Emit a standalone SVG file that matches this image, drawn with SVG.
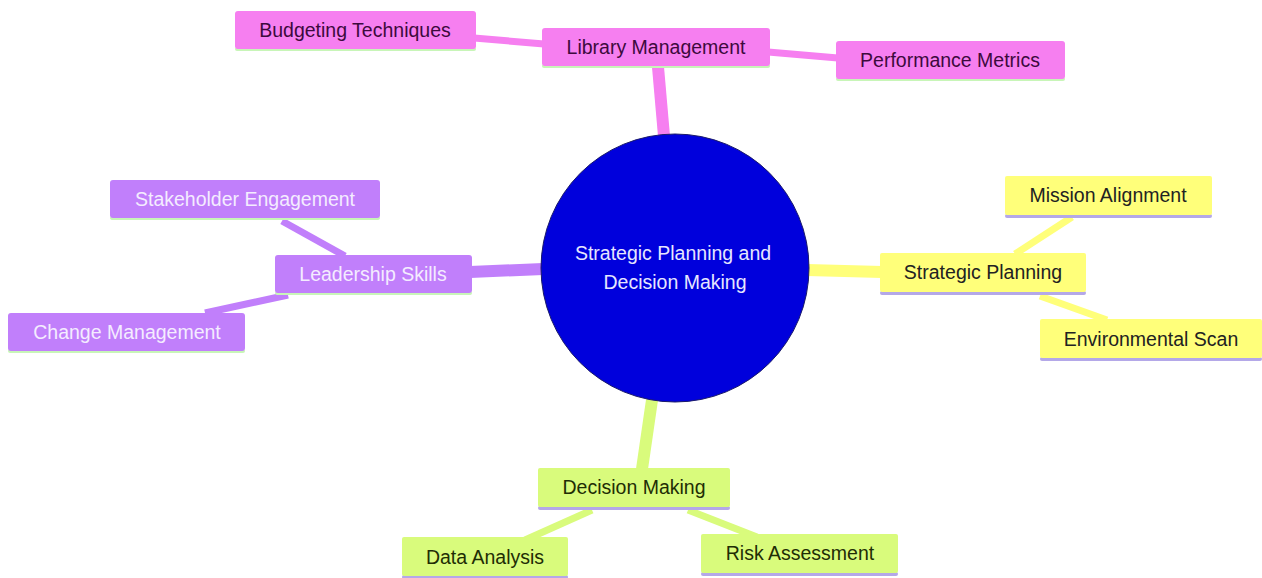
<svg xmlns="http://www.w3.org/2000/svg" width="1262" height="578" viewBox="0 0 1262 578">
<style>
text{font-family:"Liberation Sans",Arial,sans-serif;font-size:19.5px;text-anchor:middle;dominant-baseline:central}
.pk{fill:#f67ff0}.pu{fill:#c17ffb}.ye{fill:#ffff7a}.gr{fill:#d9fb7c}
.tpk{fill:#3d0a3d}.tpu{fill:#f4ecff}.tye{fill:#222}.tgr{fill:#1f2d05}
.cpk{stroke:#f67ff0}.cpu{stroke:#c17ffb}.cye{stroke:#ffff7a}.cgr{stroke:#d9fb7c}
.ulg{fill:#c8f5b8}.ulv{fill:#b4a8e8}
</style>
<rect width="1262" height="578" fill="#fff"/>
<g id="connectors" fill="none" stroke-linecap="butt">
<line class="cpk" x1="658" y1="67" x2="664" y2="136" stroke-width="12"/>
<line class="cpk" x1="474" y1="38" x2="544" y2="44" stroke-width="7"/>
<line class="cpk" x1="768" y1="52" x2="838" y2="58" stroke-width="7"/>
<line class="cpu" x1="470" y1="272" x2="543" y2="269" stroke-width="12"/>
<line class="cpu" x1="282" y1="221" x2="345" y2="256" stroke-width="7"/>
<line class="cpu" x1="288" y1="295" x2="205" y2="313" stroke-width="7"/>
<line class="cye" x1="807" y1="270" x2="882" y2="272" stroke-width="12"/>
<line class="cye" x1="1015" y1="254" x2="1072" y2="217" stroke-width="7"/>
<line class="cye" x1="1040" y1="296" x2="1107" y2="320" stroke-width="7"/>
<line class="cgr" x1="652" y1="400" x2="642" y2="469" stroke-width="12"/>
<line class="cgr" x1="592" y1="510" x2="525" y2="540" stroke-width="7"/>
<line class="cgr" x1="688" y1="510" x2="757" y2="537" stroke-width="7"/>
</g>
<g id="root">
<circle cx="675" cy="268" r="134" fill="#0000dc" stroke="#1a1a6a" stroke-width="1"/>
<text x="673" y="253" fill="#e6e6ff">Strategic Planning and</text>
<text x="675" y="282" fill="#e6e6ff">Decision Making</text>
</g>
<g id="library-management">
<rect class="ulg" x="542" y="64" width="228" height="4" rx="2"/>
<rect class="pk" x="542" y="28" width="228" height="38" rx="3"/>
<text class="tpk" x="656" y="47">Library Management</text>
</g>
<g id="budgeting-techniques">
<rect class="ulg" x="235" y="47" width="241" height="4" rx="2"/>
<rect class="pk" x="235" y="11" width="241" height="38" rx="3"/>
<text class="tpk" x="355" y="30">Budgeting Techniques</text>
</g>
<g id="performance-metrics">
<rect class="ulg" x="836" y="77" width="229" height="4" rx="2"/>
<rect class="pk" x="836" y="41" width="229" height="38" rx="3"/>
<text class="tpk" x="950" y="60">Performance Metrics</text>
</g>
<g id="leadership-skills">
<rect class="ulg" x="275" y="291" width="197" height="4" rx="2"/>
<rect class="pu" x="275" y="255" width="197" height="38" rx="3"/>
<text class="tpu" x="373" y="274">Leadership Skills</text>
</g>
<g id="stakeholder-engagement">
<rect class="ulg" x="110" y="216" width="270" height="4" rx="2"/>
<rect class="pu" x="110" y="180" width="270" height="38" rx="3"/>
<text class="tpu" x="245" y="199">Stakeholder Engagement</text>
</g>
<g id="change-management">
<rect class="ulg" x="8" y="349" width="237" height="4" rx="2"/>
<rect class="pu" x="8" y="313" width="237" height="38" rx="3"/>
<text class="tpu" x="127" y="332">Change Management</text>
</g>
<g id="strategic-planning">
<rect class="ulv" x="880" y="291" width="206" height="4" rx="2"/>
<rect class="ye" x="880" y="253" width="206" height="39" rx="2"/>
<text class="tye" x="983" y="272">Strategic Planning</text>
</g>
<g id="mission-alignment">
<rect class="ulv" x="1005" y="214" width="207" height="4" rx="2"/>
<rect class="ye" x="1005" y="176" width="207" height="39" rx="2"/>
<text class="tye" x="1108" y="195">Mission Alignment</text>
</g>
<g id="environmental-scan">
<rect class="ulv" x="1040" y="357" width="222" height="4" rx="2"/>
<rect class="ye" x="1040" y="319" width="222" height="39" rx="2"/>
<text class="tye" x="1151" y="339">Environmental Scan</text>
</g>
<g id="decision-making">
<rect class="ulv" x="538" y="506" width="192" height="4" rx="2"/>
<rect class="gr" x="538" y="468" width="192" height="39" rx="2"/>
<text class="tgr" x="634" y="487">Decision Making</text>
</g>
<g id="data-analysis">
<rect class="ulv" x="402" y="575" width="166" height="4" rx="2"/>
<rect class="gr" x="402" y="537" width="166" height="39" rx="2"/>
<text class="tgr" x="485" y="557">Data Analysis</text>
</g>
<g id="risk-assessment">
<rect class="ulv" x="701" y="572" width="197" height="4" rx="2"/>
<rect class="gr" x="701" y="534" width="197" height="39" rx="2"/>
<text class="tgr" x="800" y="553">Risk Assessment</text>
</g>
</svg>
